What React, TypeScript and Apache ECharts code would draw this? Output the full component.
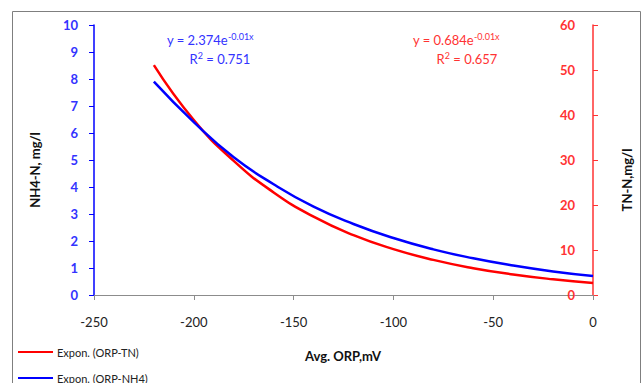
import React, { useEffect, useRef } from "react";
import * as echarts from "echarts";

const orp = [-220, -200, -180, -160, -140, -120, -100, -80, -60, -40, -20, 0];
const nh4 = [7.9, 6.4, 5.1, 4.1, 3.27, 2.63, 2.11, 1.69, 1.36, 1.09, 0.87, 0.7];
const tn = [51.1, 38.9, 29.8, 22.8, 17.4, 13.3, 10.2, 7.8, 5.96, 4.56, 3.49, 2.67];
const xTicks = [-250, 0, 50];
const leftTicks = [0, 10, 1];
const rightTicks = [0, 60, 10];
const legendNames = ["Expon. (ORP-TN)", "Expon. (ORP-NH4)"];

const FONT = "Lato, 'Liberation Sans', sans-serif";

export default function App() {
  const ref = useRef<HTMLDivElement>(null);
  useEffect(() => {
    document.body.style.margin = "0";
    const chart = echarts.init(ref.current!, null, { renderer: "svg" });
    const blueT = "#3333ff";
    const redT = "#ff3333";
    const eq = (color: string) => ({
      m: { fontSize: 13, fill: color, fontFamily: FONT, lineHeight: 16 },
      s: { fontSize: 9, fill: color, fontFamily: FONT, verticalAlign: "top", lineHeight: 16, padding: [0, 0, 8, 0] },
    });
    const legendColors = ["#ff0000", "#0000ff"];
    const legendGraphics: any[] = [];
    legendNames.forEach((n, i) => {
      const y = 352 + i * 26;
      legendGraphics.push({
        type: "line",
        shape: { x1: 18, y1: y, x2: 53, y2: y },
        style: { stroke: legendColors[i], lineWidth: 2 },
      });
      legendGraphics.push({
        type: "text",
        x: 57,
        y,
        style: { text: n, fontSize: 11, fill: "#222", fontFamily: FONT, verticalAlign: "middle" },
      });
    });
    chart.setOption({
      animation: false,
      grid: { left: 94, right: 50, top: 25, bottom: 88 },
      xAxis: {
        type: "value",
        min: xTicks[0],
        max: xTicks[1],
        interval: xTicks[2],
        axisLine: { onZero: false, lineStyle: { color: "#8c8c8c", width: 1 } },
        axisTick: { show: true, length: 5, lineStyle: { color: "#8c8c8c" } },
        axisLabel: { margin: 20, fontSize: 13, color: "#222", fontFamily: FONT },
        splitLine: { show: false },
      },
      yAxis: [
        {
          type: "value",
          min: leftTicks[0],
          max: leftTicks[1],
          interval: leftTicks[2],
          position: "left",
          axisLine: { show: true, onZero: false, lineStyle: { color: "#0000ff", width: 1.5 } },
          axisTick: { show: true, length: 5, lineStyle: { color: "#0000ff" } },
          axisLabel: { margin: 16, fontSize: 13, fontWeight: "bold", color: blueT, fontFamily: FONT },
          splitLine: { show: false },
        },
        {
          type: "value",
          min: rightTicks[0],
          max: rightTicks[1],
          interval: rightTicks[2],
          position: "right",
          axisLine: { show: true, onZero: false, lineStyle: { color: "#ff3333", width: 1.5 } },
          axisTick: { show: true, length: 5, lineStyle: { color: "#ff3333" } },
          axisLabel: { inside: true, margin: 18, fontSize: 13, fontWeight: "bold", color: redT, fontFamily: FONT },
          splitLine: { show: false },
        },
      ],
      series: [
        {
          name: legendNames[0],
          type: "line",
          yAxisIndex: 1,
          smooth: true,
          symbol: "none",
          color: "#ff0000",
          lineStyle: { width: 2.5, color: "#ff0000" },
          data: orp.map((x, i) => [x, tn[i]]),
          z: 3,
        },
        {
          name: legendNames[1],
          type: "line",
          yAxisIndex: 0,
          smooth: true,
          symbol: "none",
          color: "#0000ff",
          lineStyle: { width: 2.5, color: "#0000ff" },
          data: orp.map((x, i) => [x, nh4[i]]),
          z: 4,
        },
      ],
      graphic: [
        {
          type: "rect",
          shape: { x: 12.5, y: 11.5, width: 628, height: 400 },
          style: { fill: "none", stroke: "#7f7f7f", lineWidth: 1 },
          silent: true,
        },
        ...legendGraphics,
        {
          type: "text",
          x: 343,
          y: 356,
          style: { text: "Avg. ORP,mV", fontSize: 13, fontWeight: "bold", fill: "#111", fontFamily: FONT, align: "center", verticalAlign: "middle" },
        },
        {
          type: "text",
          x: 35,
          y: 170,
          rotation: Math.PI / 2,
          style: { text: "NH4-N, mg/l", fontSize: 13, fontWeight: "bold", fill: "#111", fontFamily: FONT, align: "center", verticalAlign: "middle" },
        },
        {
          type: "text",
          x: 627,
          y: 180,
          rotation: Math.PI / 2,
          style: { text: "TN-N,mg/l", fontSize: 13, fontWeight: "bold", fill: "#111", fontFamily: FONT, align: "center", verticalAlign: "middle" },
        },
        {
          type: "text",
          x: 167,
          y: 40,
          style: { text: "{m|y = 2.374e}{s|-0.01x}", rich: eq(blueT), verticalAlign: "middle" },
        },
        {
          type: "text",
          x: 220,
          y: 59,
          style: { text: "{m|R}{s|2}{m| = 0.751}", rich: eq(blueT), align: "center", verticalAlign: "middle" },
        },
        {
          type: "text",
          x: 413,
          y: 40,
          style: { text: "{m|y = 0.684e}{s|-0.01x}", rich: eq(redT), verticalAlign: "middle" },
        },
        {
          type: "text",
          x: 467,
          y: 59,
          style: { text: "{m|R}{s|2}{m| = 0.657}", rich: eq(redT), align: "center", verticalAlign: "middle" },
        },
      ],
    });
    return () => chart.dispose();
  }, []);
  return <div ref={ref} style={{ width: 643, height: 383 }} />;
}
